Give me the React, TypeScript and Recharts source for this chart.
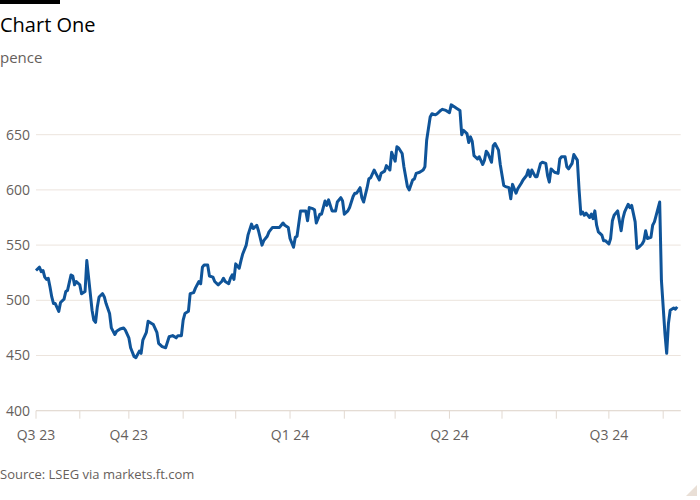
import { LineChart, Line, XAxis, YAxis, CartesianGrid } from 'recharts'

// x values are calendar days counted from 9 Aug 2023
const days = [
  0, 2, 3, 4, 5, 6, 7, 8, 9, 10, 11, 13, 14, 16, 17, 18, 20, 21, 22, 23, 25, 26, 28, 29, 30,
  32, 33, 34, 35, 36, 38, 39, 40, 42, 43, 45, 46, 48, 50, 51, 53, 54, 56, 57, 59, 60, 61, 63,
  64, 66, 67, 69, 70, 72, 74, 76, 78, 80, 81, 83, 84, 85, 87, 88, 90, 91, 93, 94, 95, 96, 98,
  99, 101, 102, 104, 106, 107, 108, 110, 111, 112, 113, 114, 116, 117, 118, 120, 121, 123, 124,
  126, 127, 129, 130, 132, 133, 135, 136, 139, 141, 142, 144, 145, 147, 148, 149, 151, 153, 154,
  155, 156, 158, 159, 160, 162, 163, 165, 166, 167, 169, 171, 172, 174, 175, 176, 178, 179, 181,
  182, 183, 185, 186, 187, 189, 190, 191, 193, 194, 196, 197, 199, 200, 202, 203, 204, 205, 206,
  207, 209, 210, 212, 213, 215, 216, 217, 219, 221, 222, 223, 225, 226, 228, 229, 231, 232, 234,
  236, 237, 239, 240, 242, 243, 244, 246, 247, 248, 249, 250, 252, 253, 255, 256, 257, 258, 260,
  261, 262, 264, 265, 267, 268, 270, 271, 272, 274, 275, 277, 278, 280, 281, 282, 283, 285, 286,
  288, 289, 291, 292, 293, 294, 296, 298, 299, 300, 302, 303, 304, 306, 307, 309, 310, 311, 312,
  313, 314, 316, 317, 318, 319, 320, 321, 323, 324, 325, 327, 328, 329, 330, 332, 334, 335, 336,
  338, 339, 340, 342, 343, 344, 346, 347, 348, 349, 351, 352, 353, 354, 356, 357, 358, 359, 360,
  361, 362, 364, 365, 366,
]

const prices = [
  527, 530, 526, 527, 521, 519, 520, 512, 503, 497, 497, 490, 498, 501, 508, 509, 523, 522, 514, 517, 514, 506, 508, 536, 521,
  491, 482, 480, 494, 503, 506, 503, 497, 488, 475, 469, 472, 474, 475, 473, 466, 457, 449, 448, 454, 452, 464, 471,
  481, 479, 478, 471, 461, 458, 457, 467, 468, 466, 468, 468, 482, 488, 490, 506, 507, 511, 517, 515, 530, 532, 532,
  522, 521, 517, 514, 517, 520, 517, 515, 520, 523, 519, 533, 529, 536, 542, 550, 559, 569, 565,
  568, 563, 550, 554, 558, 562, 566, 566, 566, 570, 568, 566, 556, 548, 557, 558, 581, 581, 581,
  572, 584, 583, 582, 570, 578, 578, 590, 586, 591, 581, 581, 589, 593, 590, 578, 581, 584, 594,
  597, 597, 602, 593, 589, 602, 610, 611, 618, 615, 609, 615, 617, 622, 618, 634, 630, 626, 639,
  638, 633, 621, 603, 600, 609, 610, 615, 616, 618, 621, 645, 666, 669, 668, 669, 672, 673, 672,
  670, 677, 675, 674, 672, 650, 654, 651, 643, 648, 644, 631, 628, 630, 623, 627, 635, 633, 625,
  640, 642, 636, 623, 604, 603, 602, 592, 605, 597, 601, 606, 609, 613, 618, 612, 618, 612, 612,
  624, 625, 624, 613, 607, 619, 616, 615, 628, 630, 630, 621, 619, 624, 632, 627, 600, 578, 580,
  577, 579, 575, 578, 574, 581, 568, 562, 559, 554, 554, 551, 556, 572, 577, 581, 563, 574, 580,
  587, 584, 586, 571, 547, 548, 551, 554, 563, 556, 557, 568, 571, 577, 589, 518, 494, 470, 452,
  479, 491, 493, 492, 494,
]

const tickDays = [0, 25, 53, 84, 114, 145, 176, 205, 236, 266, 297, 327, 358]
const tickLabels = ['Q3 23', '', 'Q4 23', '', '', 'Q1 24', '', '', 'Q2 24', '', '', 'Q3 24', '']
const priceTicks = [400, 450, 500, 550, 600, 650]

const data = days.map((day, i) => ({ day, price: prices[i] }))

const FONT = "'Open Sans', sans-serif"
const GREY = '#66605c'
const GRID = '#ece4dd'
const AXIS = '#e2d9d1'

function labelFor(day: number): string {
  const i = tickDays.indexOf(day)
  return i >= 0 ? tickLabels[i] : ''
}

export default function App() {
  return (
    <div style={{ position: 'absolute', left: 0, top: 0, width: 700, height: 500, background: '#fff', fontFamily: FONT }}>
      <LineChart
        width={700}
        height={500}
        data={data}
        margin={{ top: 79.5, right: 19.3, bottom: 49.3, left: 0 }}
        style={{ position: 'absolute', left: 0, top: 0 }}
      >
        <CartesianGrid vertical={false} stroke={GRID} horizontalValues={priceTicks} />
        <XAxis
          dataKey="day"
          type="number"
          domain={[0, 368]}
          ticks={tickDays}
          interval={0}
          tickFormatter={labelFor}
          height={40}
          tickSize={8}
          tickMargin={11}
          axisLine={{ stroke: AXIS }}
          tickLine={{ stroke: AXIS }}
          tick={{ fill: GREY, fontSize: 14, fontFamily: FONT }}
        />
        <YAxis
          type="number"
          domain={[400, 700]}
          ticks={priceTicks}
          interval={0}
          width={36}
          tickSize={0}
          tickMargin={6}
          axisLine={false}
          tickLine={false}
          tick={{ fill: GREY, fontSize: 14, fontFamily: FONT }}
        />
        <Line
          type="linear"
          dataKey="price"
          stroke="#0f5499"
          strokeWidth={3}
          strokeLinejoin="round"
          dot={false}
          isAnimationActive={false}
        />
      </LineChart>
      <svg width={700} height={500} style={{ position: 'absolute', left: 0, top: 0, pointerEvents: 'none' }}>
        <rect x={0} y={0} width={60} height={4} fill="#000" />
        <text x={0} y={32} fontSize={20} fill="#000" fontFamily={FONT}>Chart One</text>
        <text x={0} y={63} fontSize={15} fill={GREY} fontFamily={FONT}>pence</text>
        <text x={0} y={479} fontSize={13} fill={GREY} fontFamily={FONT}>Source: LSEG via markets.ft.com</text>
        <polygon points="686,496 697,496 697,485" fill="#e9dfd6" />
      </svg>
    </div>
  )
}
